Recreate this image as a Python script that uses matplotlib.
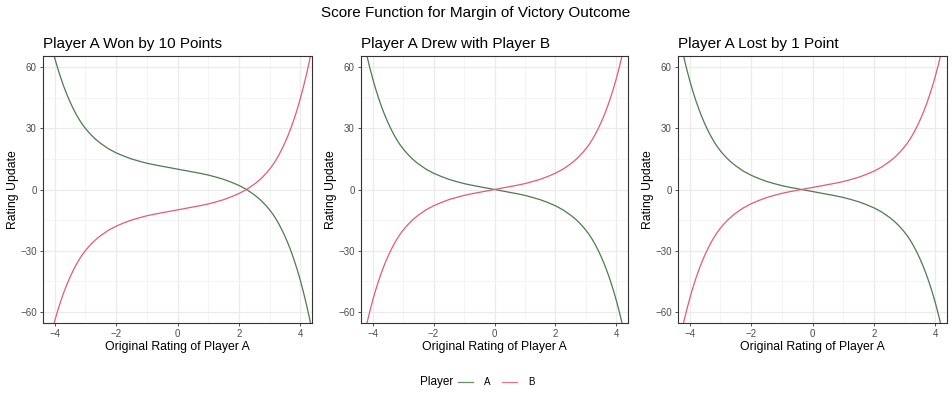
import matplotlib
matplotlib.use("Agg")
import matplotlib.pyplot as plt
from matplotlib.lines import Line2D

plt.rcParams["font.family"] = ["Liberation Sans", "DejaVu Sans"]

# --- DATA ---
Rating = [-4.4, -4.3, -4.2, -4.1, -4.0, -3.9, -3.8, -3.7, -3.6, -3.5, -3.4,
          -3.3, -3.2, -3.1, -3.0, -2.9, -2.8, -2.7, -2.6, -2.5,
          -2.25, -2.0, -1.75, -1.5, -1.25, -1.0, -0.75, -0.5, -0.25, 0.0,
          0.25, 0.5, 0.75, 1.0, 1.25, 1.5, 1.75, 2.0, 2.25,
          2.5, 2.6, 2.7, 2.8, 2.9, 3.0, 3.1, 3.2, 3.3, 3.4, 3.5, 3.6, 3.7,
          3.8, 3.9, 4.0, 4.1, 4.2, 4.3, 4.4]

Won_A = [90.7, 83.3, 76.5, 70.3, 64.6, 59.4, 54.7, 50.4, 46.5, 43, 39.8,
         36.9, 34.3, 32, 30, 28.2, 26.6, 25.1, 23.8, 22.6,
         20, 18, 16.4, 15, 13.9, 12.9, 12.1, 11.4, 10.7, 10,
         9.3, 8.6, 7.9, 7.1, 6.1, 5.0, 3.6, 2.0, 0,
         -2.6, -3.8, -5.1, -6.6, -8.2, -10, -12, -14.3, -16.9, -19.8, -23,
         -26.5, -30.4, -34.7, -39.4, -44.6, -50.3, -56.5, -63.3, -70.7]
Won_B = [-90.7, -83.3, -76.5, -70.3, -64.6, -59.4, -54.7, -50.4, -46.5, -43,
         -39.8, -36.9, -34.3, -32, -30, -28.2, -26.6, -25.1, -23.8, -22.6,
         -20, -18, -16.4, -15, -13.9, -12.9, -12.1, -11.4, -10.7, -10,
         -9.3, -8.6, -7.9, -7.1, -6.1, -5.0, -3.6, -2.0, 0,
         2.6, 3.8, 5.1, 6.6, 8.2, 10, 12, 14.3, 16.9, 19.8, 23,
         26.5, 30.4, 34.7, 39.4, 44.6, 50.3, 56.5, 63.3, 70.7]

Drew_A = [80.7, 73.3, 66.5, 60.3, 54.6, 49.4, 44.7, 40.4, 36.5, 33, 29.8,
          26.9, 24.3, 22, 20, 18.2, 16.6, 15.1, 13.8, 12.6,
          10, 8.0, 6.4, 5.0, 3.9, 2.9, 2.1, 1.4, 0.7, 0,
          -0.7, -1.4, -2.1, -2.9, -3.9, -5.0, -6.4, -8.0, -10,
          -12.6, -13.8, -15.1, -16.6, -18.2, -20, -22, -24.3, -26.9, -29.8,
          -33, -36.5, -40.4, -44.7, -49.4, -54.6, -60.3, -66.5, -73.3, -80.7]
Drew_B = [-80.7, -73.3, -66.5, -60.3, -54.6, -49.4, -44.7, -40.4, -36.5, -33,
          -29.8, -26.9, -24.3, -22, -20, -18.2, -16.6, -15.1, -13.8, -12.6,
          -10, -8.0, -6.4, -5.0, -3.9, -2.9, -2.1, -1.4, -0.7, 0,
          0.7, 1.4, 2.1, 2.9, 3.9, 5.0, 6.4, 8.0, 10,
          12.6, 13.8, 15.1, 16.6, 18.2, 20, 22, 24.3, 26.9, 29.8,
          33, 36.5, 40.4, 44.7, 49.4, 54.6, 60.3, 66.5, 73.3, 80.7]

Lost_A = [79.7, 72.3, 65.5, 59.3, 53.6, 48.4, 43.7, 39.4, 35.5, 32, 28.8,
          25.9, 23.3, 21, 19, 17.2, 15.6, 14.1, 12.8, 11.6,
          9, 7, 5.4, 4, 2.9, 1.9, 1.1, 0.4, -0.3, -1,
          -1.7, -2.4, -3.1, -3.9, -4.9, -6, -7.4, -9, -11,
          -13.6, -14.8, -16.1, -17.6, -19.2, -21, -23, -25.3, -27.9, -30.8,
          -34, -37.5, -41.4, -45.7, -50.4, -55.6, -61.3, -67.5, -74.3, -81.7]
Lost_B = [-79.7, -72.3, -65.5, -59.3, -53.6, -48.4, -43.7, -39.4, -35.5, -32,
          -28.8, -25.9, -23.3, -21, -19, -17.2, -15.6, -14.1, -12.8, -11.6,
          -9, -7, -5.4, -4, -2.9, -1.9, -1.1, -0.4, 0.3, 1,
          1.7, 2.4, 3.1, 3.9, 4.9, 6, 7.4, 9, 11,
          13.6, 14.8, 16.1, 17.6, 19.2, 21, 23, 25.3, 27.9, 30.8,
          34, 37.5, 41.4, 45.7, 50.4, 55.6, 61.3, 67.5, 74.3, 81.7]

Titles = ["Player A Won by 10 Points", "Player A Drew with Player B",
          "Player A Lost by 1 Point"]
Series_A = [Won_A, Drew_A, Lost_A]
Series_B = [Won_B, Drew_B, Lost_B]
X_ticks = [-4, -2, 0, 2, 4]
Y_ticks = [-60, -30, 0, 30, 60]

Col_A = "#4F7A4F"
Col_B = "#E35A7B"

# --- FIGURE ---
W, H = 952, 396
fig = plt.figure(figsize=(W / 100, H / 100), dpi=100)
Lefts = [43, 361, 678]
Rights = [312, 628, 947]
Top, Bottom = 56, 323

for i in range(3):
    ax = fig.add_axes([Lefts[i] / W, (H - Bottom) / H,
                       (Rights[i] - Lefts[i]) / W, (Bottom - Top) / H])
    ax.set_xlim(-4.38, 4.38)
    ax.set_ylim(-65.5, 65.5)
    ax.set_xticks(X_ticks)
    ax.set_yticks(Y_ticks)
    ax.set_xticks([-3, -1, 1, 3], minor=True)
    ax.set_yticks([-45, -15, 15, 45], minor=True)
    ax.set_xticklabels(["\u22124", "\u22122", "0", "2", "4"])
    ax.set_yticklabels(["\u221260", "\u221230", "0", "30", "60"])
    ax.grid(True, which="major", color="#EBEBEB", linewidth=0.9)
    ax.grid(True, which="minor", color="#F2F2F2", linewidth=0.6)
    ax.set_axisbelow(True)
    ax.tick_params(which="major", length=2.5, width=0.6, color="#333333",
                   labelsize=7, labelcolor="#4D4D4D", pad=2)
    ax.tick_params(which="minor", length=0)
    for s in ax.spines.values():
        s.set_color("#333333")
        s.set_linewidth(0.8)

    ax.plot(Rating, Series_A[i], color=Col_A, linewidth=0.9)
    ax.plot(Rating, Series_B[i], color=Col_B, linewidth=0.9)

    ax.set_xlabel("Original Rating of Player A", fontsize=8.8)
    ax.set_ylabel("Rating Update", fontsize=8.8)
    w = Rights[i] - Lefts[i]
    ax.xaxis.set_label_coords(0.5, (323 - 341) / (Bottom - Top))
    ax.yaxis.set_label_coords((19 - 43) / w, 0.5)
    ax.set_title(Titles[i], loc="left", fontsize=11, pad=6)

fig.text(0.5, 1 - 13 / H, "Score Function for Margin of Victory Outcome",
         ha="center", va="center", fontsize=11)

# Legend at the bottom: title to the left, entries in a row
fig.text(420 / W, 1 - 382 / H, "Player", ha="left", va="center",
         fontsize=8.5)
Handles = [Line2D([], [], color=Col_A, linewidth=0.9, alpha=0.85),
           Line2D([], [], color=Col_B, linewidth=0.9, alpha=0.85)]
fig.legend(Handles, ["A", "B"], loc="center left",
           bbox_to_anchor=(458 / W, 1 - 382 / H), ncol=2, frameon=False,
           fontsize=7, handlelength=1.5, columnspacing=1.2,
           handletextpad=1.2, borderpad=0, borderaxespad=0)
fig.savefig("out.png", dpi=100)
